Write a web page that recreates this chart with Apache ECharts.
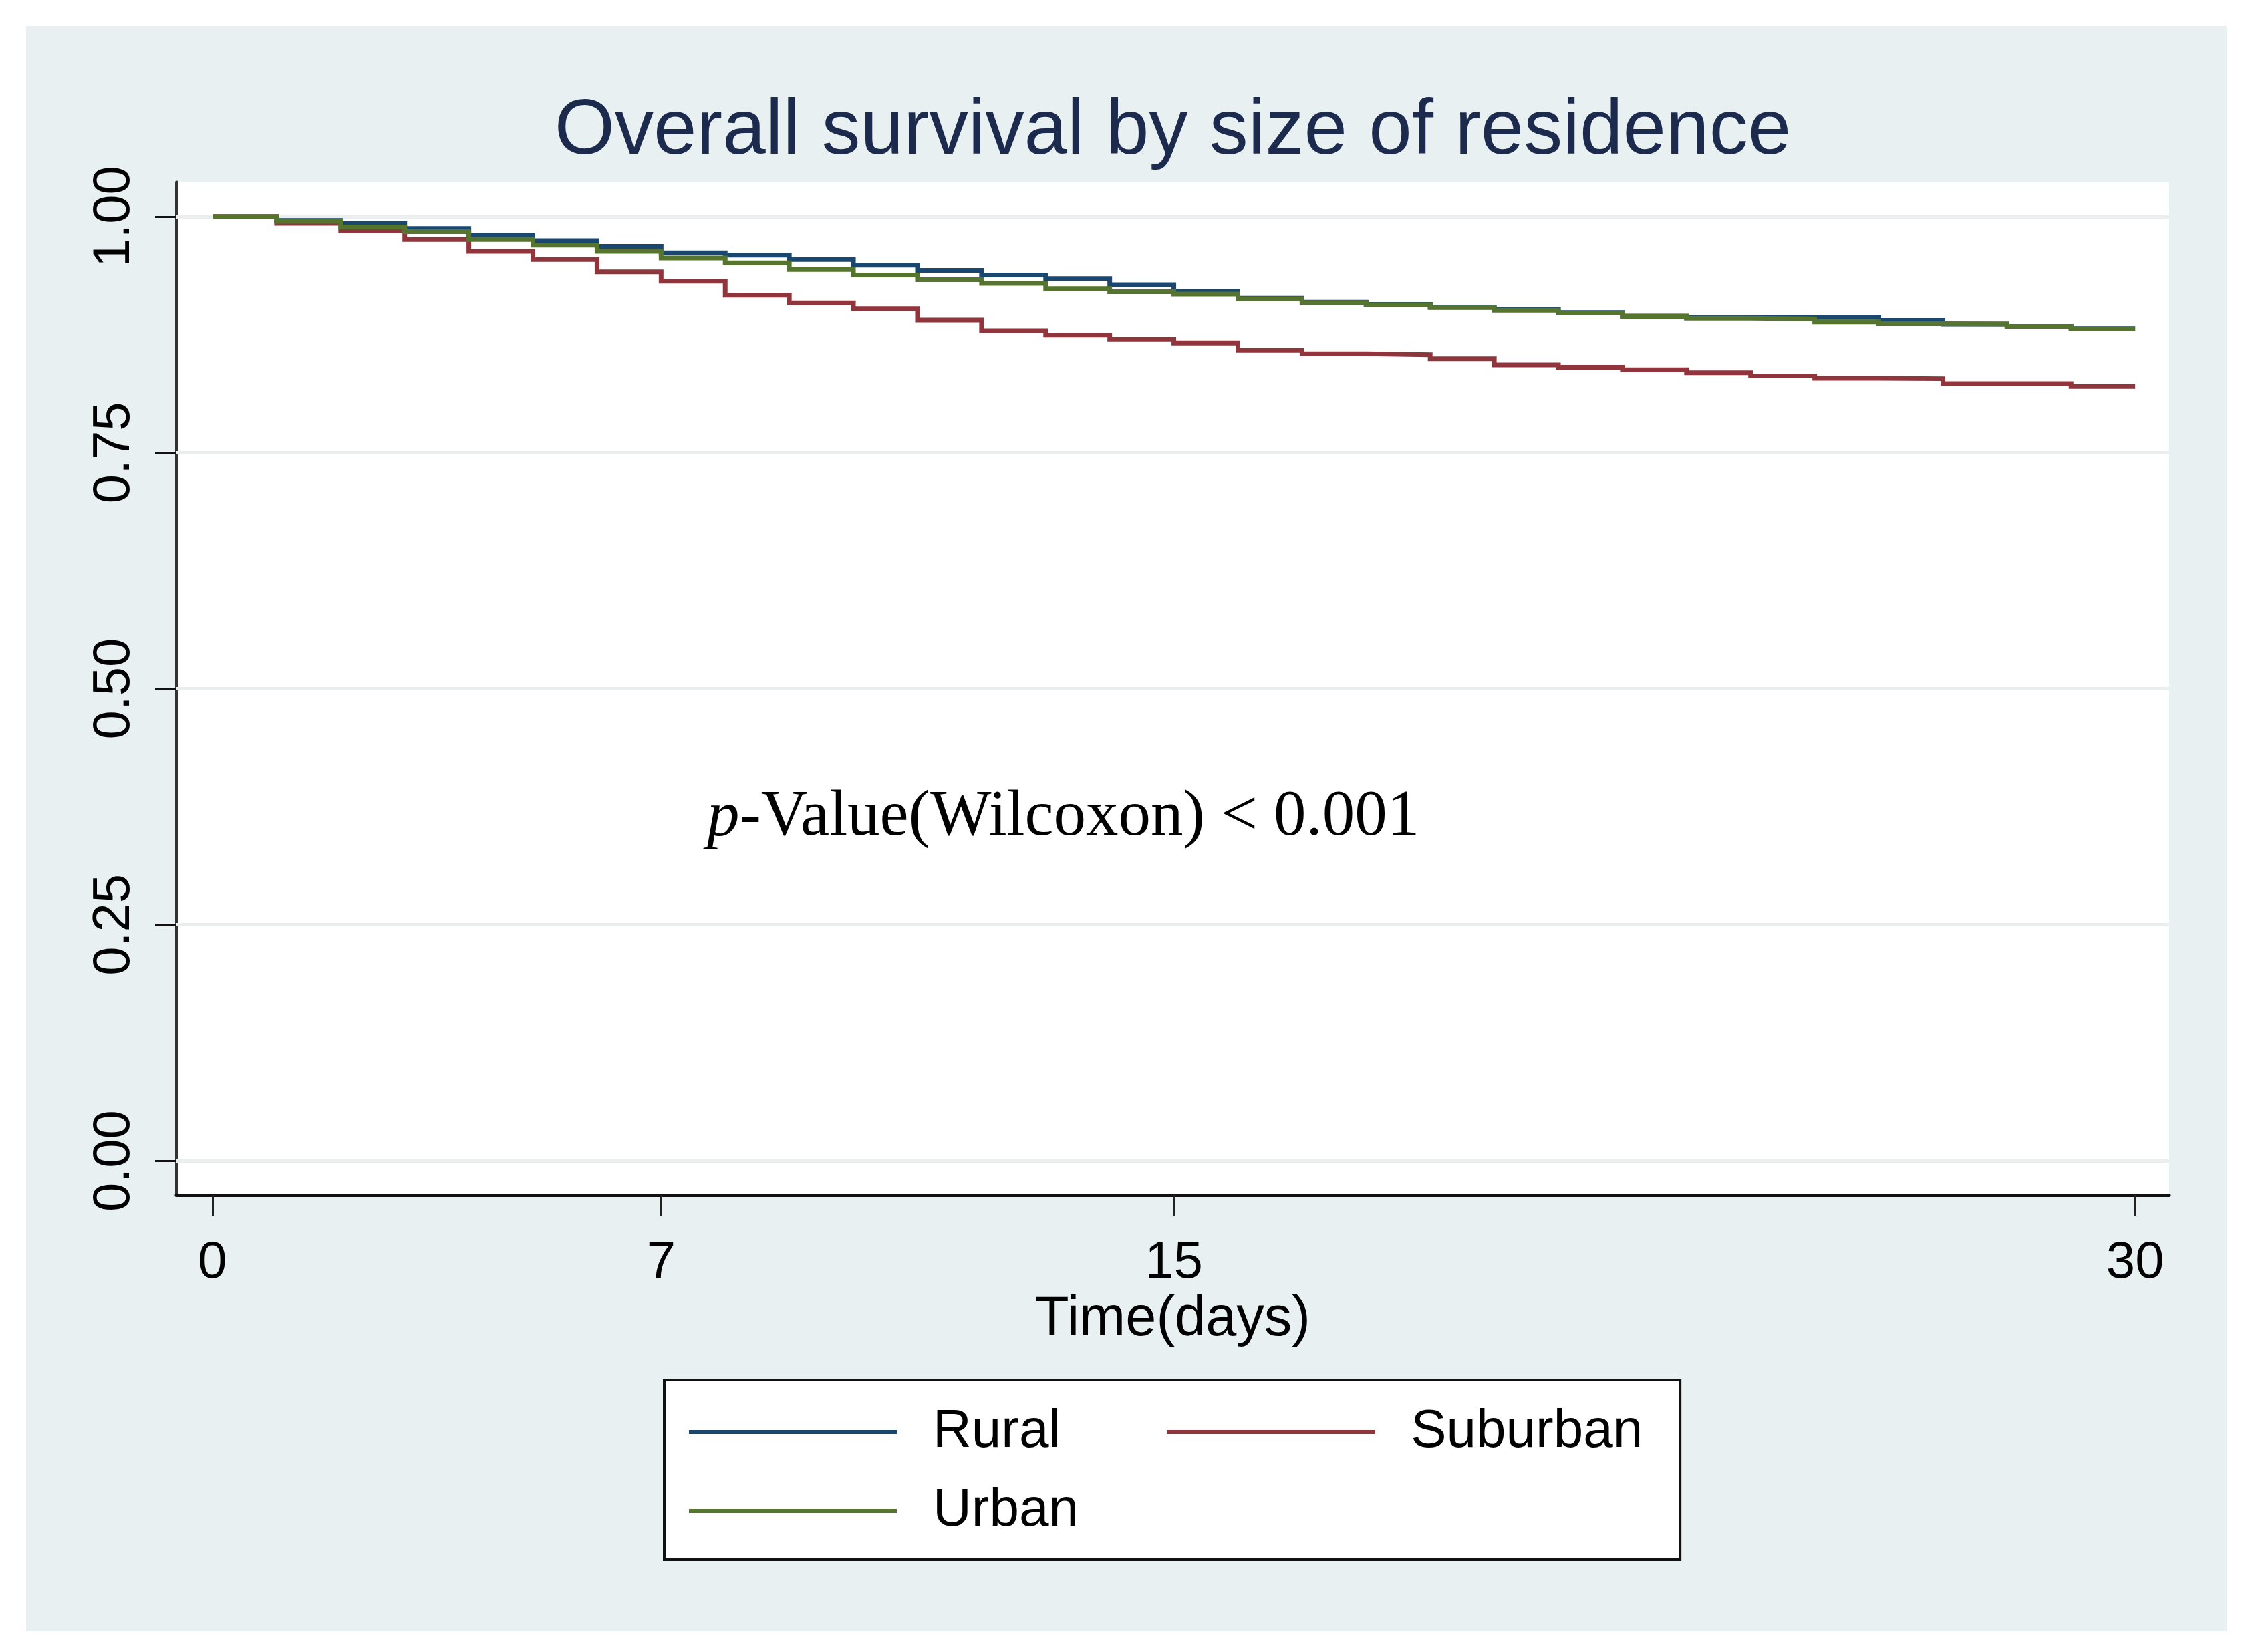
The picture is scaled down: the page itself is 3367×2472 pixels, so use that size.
<!DOCTYPE html>
<html><head><meta charset="utf-8">
<script src="https://cdn.jsdelivr.net/npm/echarts@6/dist/echarts.min.js"></script>
<style>
html,body{margin:0;padding:0;background:#ffffff;width:3367px;height:2472px;overflow:hidden}
#chart{position:absolute;left:39px;top:39px;width:3293px;height:2402px}
</style>
</head><body><div id="chart"></div>
<script>
const titleText = 'Overall survival by size of residence';
const xName = 'Time(days)';
const seriesNames = ['Rural', 'Suburban', 'Urban'];
const xTicks = [0, 7, 15, 30];
const yTicks = [0, 0.25, 0.5, 0.75, 1];
const days = [0,1,2,3,4,5,6,7,8,9,10,11,12,13,14,15,16,17,18,19,20,21,22,23,24,25,26,27,28,29,30];
const rural = [1.000,0.996,0.993,0.9875,0.9804,0.9745,0.9686,0.9616,0.9592,0.9545,0.9486,0.9431,0.9380,0.9344,0.9278,0.9207,0.9135,0.9092,0.9070,0.9040,0.9012,0.8982,0.8946,0.8927,0.8930,0.8930,0.8900,0.8860,0.8836,0.8813,0.8813];
const suburban = [1.000,0.993,0.985,0.9757,0.9632,0.9545,0.9415,0.9316,0.9167,0.9085,0.9026,0.8903,0.8790,0.8742,0.8696,0.8660,0.8582,0.8547,0.8537,0.8495,0.8429,0.8405,0.8377,0.8346,0.8312,0.8287,0.8283,0.8231,0.8231,0.8200,0.8200];
const urban = [1.000,0.995,0.989,0.984,0.9757,0.9698,0.9632,0.9561,0.9510,0.9439,0.9380,0.9332,0.9292,0.9238,0.9203,0.9179,0.9130,0.9088,0.9066,0.9036,0.9008,0.8978,0.8942,0.8922,0.8915,0.8884,0.8865,0.8860,0.8836,0.8810,0.8810];
const pText = '{i|p}-Value(Wilcoxon) < 0.001';

const colors = {Rural: '#1a476f', Suburban: '#90353b', Urban: '#55752f'};
const sans = "'Liberation Sans', Arial, Helvetica, sans-serif";
const serif = "'Liberation Serif', 'Times New Roman', serif";

function pairs(vals) { return days.map((d, i) => [d, vals[i]]); }
function lineSeries(name, vals) {
  return {
    name: name, type: 'line', step: 'end', data: pairs(vals),
    showSymbol: false, symbol: 'none', z: 3,
    lineStyle: {color: colors[name], width: 7, join: 'miter'},
    itemStyle: {color: colors[name]},
    emphasis: {disabled: true}
  };
}

const chart = echarts.init(document.getElementById('chart'), null, {renderer: 'canvas'});
chart.setOption({
  animation: false,
  backgroundColor: '#e8f0f2',
  title: [
    {text: titleText, left: 1716, top: 101, textAlign: 'center', padding: 0,
     textStyle: {fontFamily: sans, fontSize: 116, fontWeight: 'normal', color: '#1c2a4e', lineHeight: 116}},
    {text: pText, left: 1019, top: 1136, padding: 0,
     textStyle: {fontFamily: serif, fontSize: 97, fontWeight: 'normal', color: '#000', lineHeight: 98,
       rich: {i: {fontFamily: serif, fontSize: 97, fontStyle: 'italic', color: '#000', lineHeight: 98}}}}
  ],
  grid: {left: 225, right: 86, top: 234, bottom: 653, show: true, backgroundColor: '#ffffff', borderWidth: 0},
  xAxis: {
    type: 'value', min: -0.563, max: 30.53,
    name: xName, nameLocation: 'middle', nameGap: 134,
    nameTextStyle: {fontFamily: sans, fontSize: 83, color: '#000', lineHeight: 83},
    axisLine: {show: true, onZero: false, lineStyle: {color: '#111', width: 5}},
    axisTick: {show: true, inside: false, length: 32, customValues: xTicks, lineStyle: {color: '#222', width: 3}},
    axisLabel: {show: true, margin: 63, customValues: xTicks, fontFamily: sans, fontSize: 78, color: '#000', lineHeight: 78},
    splitLine: {show: false}
  },
  yAxis: {
    type: 'value', min: -0.0361, max: 1.0361,
    axisLine: {show: true, onZero: false, lineStyle: {color: '#333', width: 5}},
    axisTick: {show: true, inside: false, length: 32, customValues: yTicks, lineStyle: {color: '#111', width: 3}},
    axisLabel: {show: true, rotate: 90, margin: 54, customValues: yTicks, fontFamily: sans, fontSize: 78, color: '#000', lineHeight: 78,
      formatter: v => Number(v).toFixed(2)},
    splitLine: {show: false}
  },
  legend: [
    {data: ['Rural', 'Suburban'], left: 955, top: 2026, orient: 'horizontal',
     padding: [38, 56, 151, 37], itemGap: 159, itemWidth: 311, itemHeight: 6, icon: 'rect',
     backgroundColor: '#ffffff', borderColor: '#111', borderWidth: 4, borderRadius: 0,
     selectedMode: false, z: 4,
     textStyle: {fontFamily: sans, fontSize: 80, color: '#000', lineHeight: 80, padding: [0, 0, 0, 49]}},
    {data: ['Urban'], left: 992, top: 2182, orient: 'horizontal', padding: 0,
     itemWidth: 311, itemHeight: 6, icon: 'rect', selectedMode: false, z: 6,
     textStyle: {fontFamily: sans, fontSize: 80, color: '#000', lineHeight: 80, padding: [0, 0, 0, 49]}}
  ],
  series: [
    {type: 'line', data: [], z: 1, silent: true,
     markLine: {silent: true, z: 1, symbol: ['none', 'none'], label: {show: false},
       lineStyle: {color: '#ebeeef', width: 5, type: 'solid'},
       emphasis: {disabled: true},
       data: yTicks.map(v => ({yAxis: v}))}},
    lineSeries('Rural', rural),
    lineSeries('Suburban', suburban),
    lineSeries('Urban', urban)
  ]
});
</script>
</body></html>
